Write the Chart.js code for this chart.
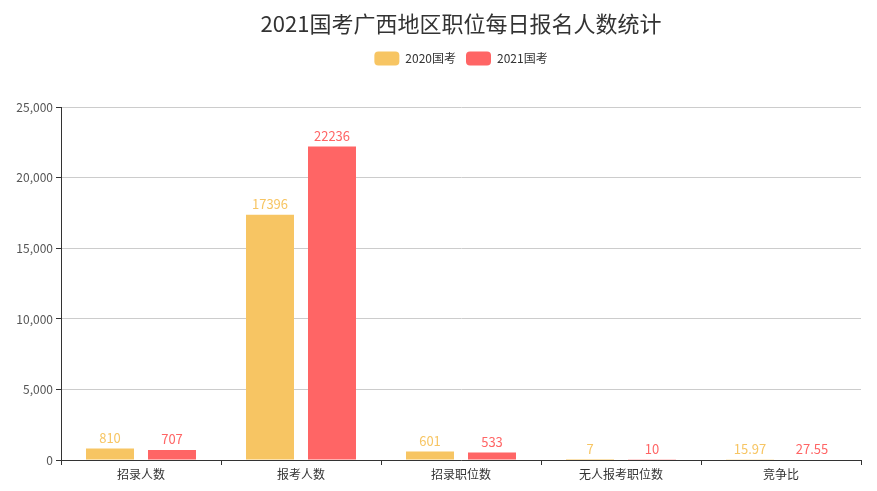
<!DOCTYPE html>
<html>
<head>
<meta charset="utf-8">
<script src="https://cdn.jsdelivr.net/npm/chart.js@4/dist/chart.umd.min.js"></script>
<style>
  html, body { margin: 0; padding: 0; background: #fff; }
  #wrap { width: 877px; height: 491px; }
</style>
</head>
<body>
<div id="wrap"><canvas id="chart" width="877" height="491"></canvas></div>
<script>
const categories = ['招录人数', '报考人数', '招录职位数', '无人报考职位数', '竞争比'];
const values2020 = [810, 17396, 601, 7, 15.97];
const values2021 = [707, 22236, 533, 10, 27.55];
const yTicks = [0, 5000, 10000, 15000, 20000, 25000];

const fontFamily = '"Noto Sans CJK SC", "Microsoft YaHei", sans-serif';

// value labels above each bar, in the bar colour
const barLabels = {
  id: 'barLabels',
  afterDatasetsDraw(chart) {
    const ctx = chart.ctx;
    ctx.save();
    ctx.font = '13px ' + fontFamily;
    ctx.textAlign = 'center';
    ctx.textBaseline = 'bottom';
    chart.data.datasets.forEach((ds, i) => {
      const meta = chart.getDatasetMeta(i);
      ctx.fillStyle = ds.backgroundColor;
      meta.data.forEach((bar, j) => {
        ctx.fillText(String(ds.data[j]), bar.x, bar.y - 4);
      });
    });
    ctx.restore();
  }
};

const ctx = document.getElementById('chart').getContext('2d');
new Chart(ctx, {
  type: 'bar',
  data: {
    labels: categories,
    datasets: [
      { label: '2020国考', data: values2020, backgroundColor: '#f7c563' },
      { label: '2021国考', data: values2021, backgroundColor: '#ff6565' },
    ],
  },
  options: {
    responsive: false,
    animation: false,
    categoryPercentage: 0.775,
    barPercentage: 0.774,
    layout: { padding: { left: 0, right: 16, top: 0, bottom: 0 } },
    plugins: {
      title: {
        display: true,
        fullSize: false,
        text: '2021国考广西地区职位每日报名人数统计',
        color: '#333',
        font: { family: fontFamily, size: 22, weight: 'normal' },
        padding: { top: 10, bottom: 5 },
      },
      subtitle: {
        display: true,
        fullSize: false,
        text: '',
        weight: 500,
        font: { size: 10, lineHeight: 1 },
        padding: { top: 0, bottom: 22 },
      },
      legend: {
        position: 'top',
        fullSize: false,
        labels: {
          color: '#333',
          font: { family: fontFamily, size: 12 },
          boxWidth: 25,
          boxHeight: 14,
          useBorderRadius: true,
          borderRadius: 4,
          padding: 10,
        },
      },
      tooltip: { enabled: false },
    },
    scales: {
      x: {
        grid: {
          offset: true,
          drawOnChartArea: false,
          tickColor: '#333',
          tickLength: 5,
        },
        border: { color: '#333' },
        ticks: {
          color: '#333',
          padding: 2,
          font: { family: fontFamily, size: 12 },
        },
        afterFit: (scale) => { scale.height = 31; },
      },
      y: {
        min: yTicks[0],
        max: yTicks[yTicks.length - 1],
        afterBuildTicks: (scale) => { scale.ticks = yTicks.map(v => ({ value: v })); },
        grid: {
          color: '#ccc',
          tickColor: '#333',
          tickLength: 5,
        },
        border: { color: '#333' },
        ticks: {
          color: '#555',
          padding: 3,
          font: { family: fontFamily, size: 12 },
          callback: (v) => v.toLocaleString('en-US'),
        },
        afterFit: (scale) => { scale.width = 61; },
      },
    },
  },
  plugins: [barLabels],
});
</script>
</body>
</html>
